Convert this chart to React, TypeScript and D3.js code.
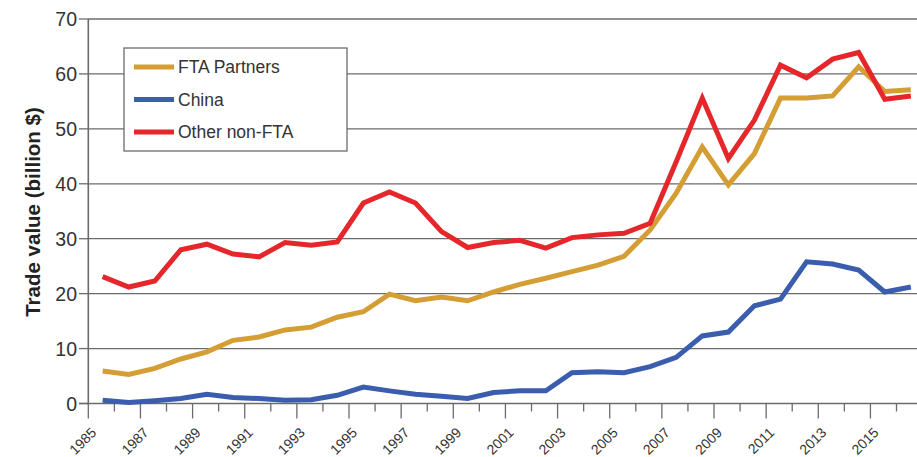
import React from "react";
import * as d3 from "d3";

const years: number[] = d3.range(1985, 2017);
const ftaPartners: number[] = [5.9, 5.3, 6.4, 8.1, 9.4, 11.5, 12.1, 13.4, 13.9, 15.7, 16.7, 19.9, 18.7, 19.4, 18.7, 20.3, 21.7, 22.8, 24.0, 25.2, 26.8, 31.6, 38.3, 46.7, 39.8, 45.5, 55.6, 55.6, 56.0, 61.3, 56.8, 57.1];
const china: number[] = [0.6, 0.2, 0.5, 0.9, 1.7, 1.1, 0.9, 0.6, 0.7, 1.5, 3.0, 2.3, 1.7, 1.3, 0.9, 2.0, 2.3, 2.3, 5.6, 5.8, 5.6, 6.7, 8.4, 12.3, 13.0, 17.8, 19.0, 25.8, 25.4, 24.3, 20.3, 21.2];
const otherNonFta: number[] = [23.1, 21.2, 22.3, 28.0, 29.0, 27.2, 26.7, 29.3, 28.8, 29.4, 36.5, 38.5, 36.5, 31.3, 28.4, 29.3, 29.7, 28.3, 30.2, 30.7, 31.0, 32.8, 44.0, 55.6, 44.6, 51.6, 61.6, 59.3, 62.7, 63.9, 55.4, 56.0];
const yTicks: number[] = [0, 10, 20, 30, 40, 50, 60, 70];
const xLabelYears: number[] = d3.range(1985, 2017, 2);
const xTickYears: number[] = d3.range(1985, 2017);

const seriesNames = ["FTA Partners", "China", "Other non-FTA"];
const seriesColors = ["#D49E35", "#3A5DAE", "#E5272B"];
const seriesData = [ftaPartners, china, otherNonFta];

const W = 917;
const H = 457;
const FONT = "'Liberation Sans', Arial, Helvetica, sans-serif";

export default function App() {
  const x = d3.scaleLinear().domain([1985, 2016]).range([88.3, 896.5]);
  const y = d3.scaleLinear().domain([0, 70]).range([403.5, 19]);
  const offset = 0.55;
  const line = d3
    .line<number>()
    .x((_, i) => x(years[i] + offset))
    .y((v) => y(v));

  return (
    <svg
      width={W}
      height={H}
      style={{ position: "absolute", left: 0, top: 0, background: "#fff" }}
      fontFamily={FONT}
    >
      {/* gridlines */}
      {yTicks.filter((t) => t > 0).map((t) => (
        <line key={"g" + t} x1={88} x2={W} y1={y(t)} y2={y(t)} stroke="#6b6b6b" strokeWidth={1.3} />
      ))}
      {/* y ticks and labels */}
      {yTicks.map((t) => (
        <g key={"yt" + t}>
          <line x1={79} x2={88} y1={y(t)} y2={y(t)} stroke="#6b6b6b" strokeWidth={1.3} />
          <text x={77} y={y(t)} dy="0.36em" textAnchor="end" fontSize={19.5} fill="#333">
            {t}
          </text>
        </g>
      ))}
      {/* axes */}
      <line x1={88.3} x2={88.3} y1={y(70)} y2={y(0) + 1} stroke="#6b6b6b" strokeWidth={1.6} />
      <line x1={79} x2={W} y1={y(0)} y2={y(0)} stroke="#6b6b6b" strokeWidth={1.6} />
      {/* x ticks */}
      {xTickYears.map((yr) => (
        <line
          key={"xt" + yr}
          x1={x(yr)}
          x2={x(yr)}
          y1={y(0)}
          y2={y(0) + ((yr - 1985) % 2 === 0 ? 15 : 8)}
          stroke="#6b6b6b"
          strokeWidth={1.3}
        />
      ))}
      {xLabelYears.map((yr) => (
        <text
          key={"xl" + yr}
          transform={`translate(${x(yr) + 9},${y(0) + 30}) rotate(-45)`}
          textAnchor="end"
          fontSize={14}
          fill="#333"
        >
          {yr}
        </text>
      ))}
      {/* y label */}
      <text
        transform={`translate(40,212) rotate(-90)`}
        textAnchor="middle"
        fontSize={20.5}
        fontWeight="bold"
        fill="#222"
      >
        Trade value (billion $)
      </text>
      {/* series */}
      {seriesData.map((d, i) => (
        <path
          key={seriesNames[i]}
          d={line(d) || ""}
          fill="none"
          stroke={seriesColors[i]}
          strokeWidth={5}
          strokeLinejoin="miter"
        />
      ))}
      {/* legend */}
      <rect x={124} y={48} width={223} height={103} fill="#fff" stroke="#6b6b6b" strokeWidth={1.3} />
      {seriesNames.map((n, i) => (
        <g key={"lg" + n}>
          <line x1={134} x2={174} y1={67 + i * 32.5} y2={67 + i * 32.5} stroke={seriesColors[i]} strokeWidth={5} />
          <text x={178} y={67 + i * 32.5} dy="0.35em" fontSize={17.5} fill="#333">
            {n}
          </text>
        </g>
      ))}
    </svg>
  );
}
